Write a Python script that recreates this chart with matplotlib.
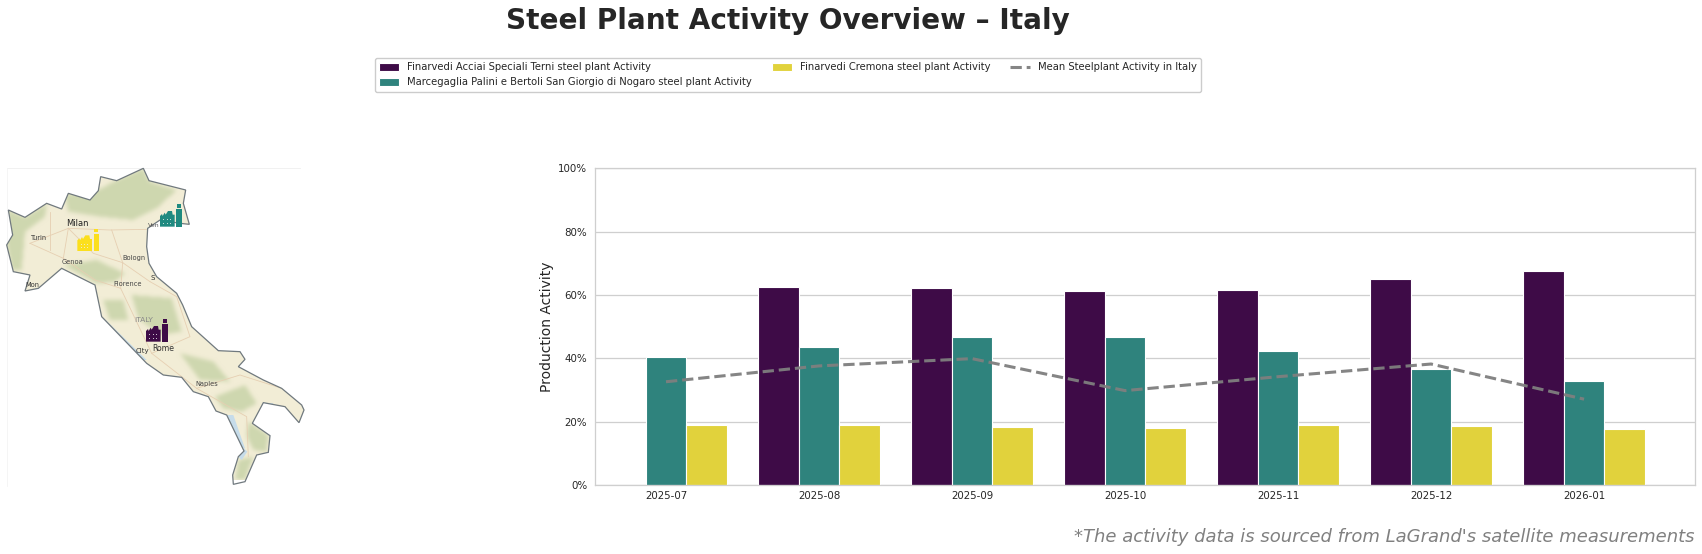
import numpy as np
import matplotlib
matplotlib.use('Agg')
import matplotlib.pyplot as plt
from matplotlib.patches import Polygon, Rectangle
from matplotlib.path import Path
from matplotlib.ticker import FuncFormatter
from matplotlib.colors import to_rgb

W, H = 1702, 554

months = ['2025-07', '2025-08', '2025-09', '2025-10', '2025-11', '2025-12', '2026-01']
terni = [np.nan, 62.4, 62.1, 61.1, 61.5, 64.9, 67.5]
marcegaglia = [40.3, 43.5, 46.6, 46.6, 42.2, 36.5, 32.7]
cremona = [19.1, 18.8, 18.2, 17.9, 18.8, 18.5, 17.6]
mean_activity = [32.6, 37.6, 39.9, 29.8, 34.2, 38.2, 27.1]

names = ['Finarvedi Acciai Speciali Terni steel plant Activity',
         'Marcegaglia Palini e Bertoli San Giorgio di Nogaro steel plant Activity',
         'Finarvedi Cremona steel plant Activity']
bar_colors = ['#3e0b47', '#2f837d', '#e1d23c']

# map shapes, traced in px from the picture
italy_outline = [(25, 210), (75, 232), (140, 190), (185, 207), (205, 160), (270, 180), (295, 152),
                 (302, 110), (350, 122), (430, 85), (447, 122), (557, 150), (550, 190), (568, 253),
                 (540, 250), (480, 240), (443, 265), (440, 320), (447, 370), (470, 410), (530, 460),
                 (548, 495), (575, 560), (655, 632), (720, 635), (735, 658), (715, 680), (790, 720),
                 (845, 745), (905, 795), (912, 810), (897, 848), (855, 800), (790, 788), (757, 850),
                 (810, 887), (805, 937), (770, 945), (735, 1025), (700, 1033), (698, 1005), (715, 950),
                 (732, 933), (680, 825), (648, 813), (625, 770), (580, 755), (545, 712), (490, 705),
                 (440, 670), (305, 530), (285, 435), (185, 385), (115, 445), (75, 453), (90, 405),
                 (40, 395), (20, 315), (38, 285)]
green_areas = [[(195, 165), (295, 150), (350, 120), (430, 85), (450, 125), (530, 150), (470, 205),
                (400, 240), (300, 230), (205, 215)],
               [(25, 210), (75, 232), (140, 190), (135, 230), (75, 275), (65, 390), (35, 390), (20, 310)],
               [(190, 375), (290, 360), (375, 400), (345, 425), (290, 430)],
               [(395, 465), (515, 475), (545, 575), (480, 585), (415, 535)],
               [(310, 480), (370, 480), (385, 540), (330, 540)],
               [(540, 640), (640, 665), (690, 725), (600, 720)],
               [(645, 770), (735, 735), (770, 790), (725, 815), (670, 805)],
               [(745, 845), (805, 885), (800, 935), (760, 930), (740, 890)],
               [(705, 1025), (715, 960), (760, 950), (735, 1020)]]
water_areas = [[(310, 533), (440, 660), (425, 660), (306, 545)],
               [(680, 825), (700, 825), (735, 925), (725, 925)],
               [(715, 950), (732, 925), (742, 935), (725, 960)],
               [(790, 788), (820, 790), (815, 800), (790, 797)]]
roads = [[(90, 310), (205, 265), (330, 270), (443, 268)],
         [(205, 265), (190, 355), (285, 420), (362, 445)],
         [(205, 265), (280, 340), (368, 368), (450, 425)],
         [(368, 368), (362, 445), (455, 640), (590, 745), (720, 705), (845, 745)],
         [(590, 745), (740, 830), (745, 950)],
         [(450, 425), (530, 470), (570, 590), (455, 640)],
         [(90, 310), (190, 355)],
         [(335, 270), (368, 368)],
         [(150, 215), (150, 330)]]
cities = [('Milan', 232, 250, 6.0, '#222222'), ('Turin', 117, 295, 4.8, '#333333'),
          ('Genoa', 218, 365, 4.8, '#444444'), ('Bologn', 402, 355, 4.8, '#444444'),
          ('Florence', 383, 431, 4.8, '#444444'), ('Rome', 490, 626, 5.6, '#333333'),
          ('City', 428, 634, 5.0, '#333333'), ('Naples', 621, 733, 4.8, '#444444'),
          ('ITALY', 430, 539, 5.4, '#888888'), ('Ven', 460, 256, 4.5, '#555555'),
          ('S', 458, 413, 5.0, '#333333'), ('Mon', 97, 436, 4.8, '#333333')]
factories = [(438, 605, bar_colors[0]), (480, 260, '#1f8a80'), (232, 333, '#fbdf1d')]


def to_px(p):
    return (p[0] / 3, 140 + p[1] / 3)


def soft_land():
    # soft green relief on beige, like the basemap in the original
    xs, ys = np.meshgrid(np.arange(0, 310) + 0.5, np.arange(160, 480) + 0.5)
    grid = np.column_stack([xs.ravel(), ys.ravel()])
    mask = np.zeros(xs.shape)
    for area in green_areas:
        mask += Path([to_px(p) for p in area]).contains_points(grid).reshape(xs.shape)
    kernel = np.ones(5) / 5
    for _ in range(2):
        mask = np.apply_along_axis(lambda r: np.convolve(r, kernel, 'same'), 0, mask)
        mask = np.apply_along_axis(lambda r: np.convolve(r, kernel, 'same'), 1, mask)
    mask = np.clip(mask, 0, 1)[..., None] * 0.8
    return (1 - mask) * np.array(to_rgb('#f2edd6')) + mask * np.array(to_rgb('#c6d2a6'))


def draw_factory(ax, x0, y0, color):
    # building with saw roof, chimney and window dots
    roof = [(0, 0), (0, -32), (6, -38), (8, -32), (14, -42), (17, -36), (24, -47), (36, -47),
            (38, -36), (44, -36), (44, 0)]
    ax.add_patch(Polygon([to_px((x0 + a, y0 + b)) for a, b in roof], fc=color, ec='none', zorder=5))
    ax.add_patch(Polygon([to_px((x0 + a, y0 + b)) for a, b in
                          [(49, 0), (49, -52), (65, -52), (65, 0)]], fc=color, ec='none', zorder=5))
    ax.add_patch(Polygon([to_px((x0 + a, y0 + b)) for a, b in
                          [(51, -67), (51, -57), (63, -57), (63, -67)]], fc=color, ec='none', zorder=5))
    for row in (-22, -12):
        for col in (10, 20, 30):
            x, y = to_px((x0 + col, y0 + row))
            ax.add_patch(Rectangle((x, y), 1, 1, fc='#eeeeee', ec='none', alpha=0.8, zorder=6))


fig = plt.figure(figsize=(W / 100, H / 100), dpi=100)

# map side, pixel coordinates over the whole figure
mp = fig.add_axes([0, 0, 1, 1])
land = Polygon([to_px(p) for p in italy_outline], fc='none', ec='#70797e', lw=0.9, zorder=3)
mp.add_patch(land)
relief = mp.imshow(soft_land(), extent=(0, 310, 480, 160), zorder=1, interpolation='bilinear')
relief.set_clip_path(land)
mp.set_xlim(0, W)
mp.set_ylim(H, 0)
mp.set_aspect('auto')
mp.axis('off')
for area in water_areas:
    patch = Polygon([to_px(p) for p in area], fc='#c6dcea', ec='none', zorder=2)
    mp.add_patch(patch)
    patch.set_clip_path(land)
for road in roads:
    pts = [to_px(p) for p in road]
    line, = mp.plot([p[0] for p in pts], [p[1] for p in pts], color='#e6cfb2', lw=0.6, zorder=2)
    line.set_clip_path(land)
for label, x, y, size, col in cities:
    px, py = to_px((x, y))
    mp.text(px, py, label, fontsize=size, color=col, ha='center', va='center', zorder=4)
for x0, y0, col in factories:
    draw_factory(mp, x0, y0, col)
mp.plot([7, 300], [168, 168], color='#efefef', lw=0.6, zorder=0)
mp.plot([7, 7], [168, 486], color='#f4f4f4', lw=0.6, zorder=0)

# bars
ax = fig.add_axes([595 / W, 1 - 485 / H, 1100 / W, 316.7 / H])
x = np.arange(len(months))
bw = 0.8 / 3
for i, (vals, col) in enumerate(zip([terni, marcegaglia, cremona], bar_colors)):
    ax.bar(x + (i - 1) * bw, vals, bw, color=col, edgecolor='white', linewidth=0.8,
           label=names[i], zorder=2)
ax.plot(x, mean_activity, color='#7f7f7f', lw=2.2, ls='--', alpha=0.95,
        label='Mean Steelplant Activity in Italy', zorder=3)
ax.set_xlim(-0.464, 6.725)
ax.set_ylim(0, 100)
ax.set_xticks(x, months)
ax.set_yticks(range(0, 101, 20))
ax.yaxis.set_major_formatter(FuncFormatter(lambda v, _: f'{v:.0f}%'))
ax.tick_params(length=0, labelsize=7.4, colors='#262626')
ax.tick_params(axis='x', pad=4.5)
ax.tick_params(axis='y', pad=5.5)
ax.grid(axis='y', color='#cfcfcf', lw=0.9, zorder=0)
ax.set_axisbelow(True)
for s in ax.spines.values():
    s.set_color('#cfcfcf')
    s.set_linewidth(0.9)
ax.set_ylabel('Production Activity', fontsize=10, color='#262626')
ax.yaxis.set_label_coords((554 - 595) / 1100, 0.5)

h, l = ax.get_legend_handles_labels()
order = [1, 2, 3, 0]
fig.legend([h[i] for i in order], [l[i] for i in order], ncol=3, loc='upper left',
           bbox_to_anchor=(375 / W, 1 - 58 / H), borderaxespad=0, fontsize=7.16, frameon=True,
           edgecolor='#cccccc', framealpha=1, labelcolor='#262626', columnspacing=2.0,
           handlelength=2.0, handleheight=0.8, handletextpad=0.8, borderpad=0.45, labelspacing=0.5)

fig.text(788 / W, 1 - 29 / H, 'Steel Plant Activity Overview – Italy', fontsize=20.1, fontweight='bold',
         color='#262626', ha='center', va='baseline')
fig.text(1695 / W, 1 - 537 / H, "*The activity data is sourced from LaGrand's satellite measurements",
         fontsize=13, style='italic', color='#808080', ha='right', va='center')

fig.savefig('out.png', dpi=100)
